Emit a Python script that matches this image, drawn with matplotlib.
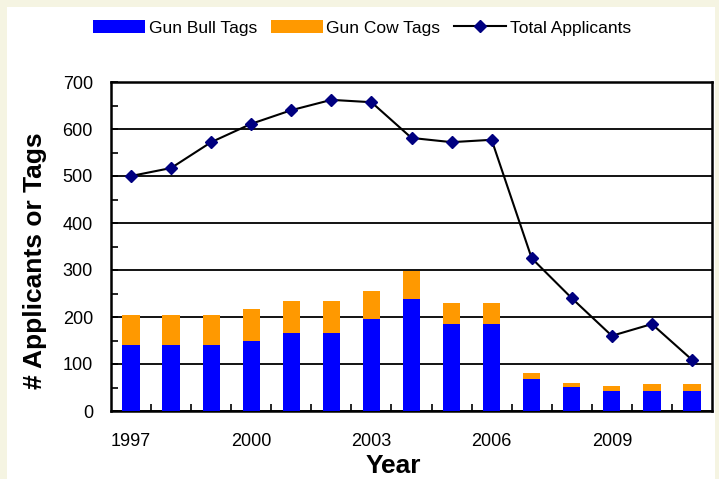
import matplotlib.pyplot as plt
from matplotlib.patches import Rectangle
from matplotlib.ticker import MultipleLocator, FixedLocator

plt.rcParams['font.family'] = ['Liberation Sans', 'DejaVu Sans']

years = list(range(1997, 2012))
bull_tags = [140, 140, 140, 149, 166, 166, 196, 238, 185, 185, 68, 51, 43, 43, 43]
cow_tags = [64, 64, 64, 68, 68, 68, 59, 60, 45, 45, 13, 9, 10, 14, 14]
total_applicants = [500, 517, 572, 611, 640, 662, 657, 581, 572, 577, 325, 240, 160, 185, 109]
tick_years = [1997, 2000, 2003, 2006, 2009]

fig = plt.figure(figsize=(7.19, 4.79), dpi=100)
fig.patch.set_facecolor("#f5f4e2")
fig.patches.append(Rectangle((7/719, 0), 708/719, 472/479, transform=fig.transFigure,
                             facecolor="white", edgecolor="none", zorder=-10))

ax = fig.add_axes([111/719, (479-411)/479, 601/719, 329/479])
x = list(range(len(years)))

b1 = ax.bar(x, bull_tags, width=0.43, color="#0000ff", label="Gun Bull Tags", zorder=3)
b2 = ax.bar(x, cow_tags, width=0.43, bottom=bull_tags, color="#ff9900", label="Gun Cow Tags", zorder=3)
ln, = ax.plot(x, total_applicants, color="black", lw=1.5, marker="D", markersize=6,
              markerfacecolor="#000080", markeredgecolor="#000080", label="Total Applicants", zorder=4)

ax.set_xlim(-0.5, len(years) - 0.5)
ax.set_ylim(0, 700)
ax.yaxis.set_major_locator(MultipleLocator(100))
ax.yaxis.set_minor_locator(MultipleLocator(50))
ax.grid(axis="y", which="major", color="black", lw=1.3, zorder=1)

ax.set_xticks([years.index(y) for y in tick_years])
ax.set_xticklabels([str(y) for y in tick_years], fontsize=13)
ax.xaxis.set_minor_locator(FixedLocator([i + 0.5 for i in range(len(years) - 1)]))
ax.tick_params(axis="x", which="major", length=0, pad=16)
ax.tick_params(axis="x", which="minor", direction="in", length=5, width=1.2)
ax.tick_params(axis="y", which="both", direction="in", length=5, width=1.2, labelsize=13, pad=13)

for s in ax.spines.values():
    s.set_linewidth(1.8)
    s.set_color("black")

ax.set_xlabel("Year", fontsize=19, fontweight="bold")
ax.set_ylabel("# Applicants or Tags", fontsize=19, fontweight="bold")
ax.xaxis.set_label_coords(0.469, -0.132)
ax.yaxis.set_label_coords(-0.106, 0.456)

fig.legend(handles=[b1, b2, ln], loc="center", bbox_to_anchor=(362/719, 1 - 28/479), ncol=3,
           frameon=False, fontsize=12.5, handlelength=3, handletextpad=0.2, columnspacing=0.8)

fig.savefig("out.png", dpi=100, facecolor=fig.get_facecolor())
